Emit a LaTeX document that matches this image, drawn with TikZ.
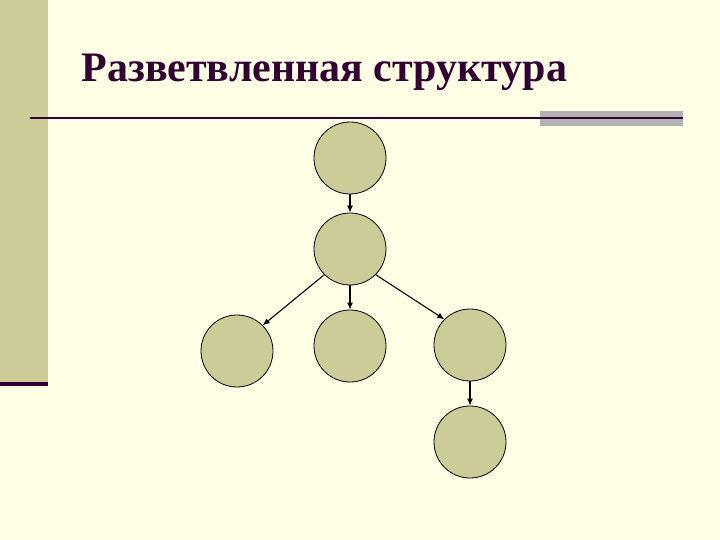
\documentclass[tikz,border=0pt]{standalone}
\usepackage{fontspec}
\setmainfont{Liberation Serif}
\usepackage{tikz}
\usetikzlibrary{arrows.meta}
\definecolor{slidebg}{RGB}{255,255,229}
\definecolor{khaki}{RGB}{204,204,153}
\definecolor{plum}{RGB}{51,0,51}
\definecolor{bargray}{RGB}{178,178,178}

\begin{document}
\begin{tikzpicture}[x=1pt, y=-1pt, line width=1pt,
        every circle node/.append style={draw=black, fill=khaki, line width=0.8pt,
          minimum size=72pt, inner sep=0pt}]
      \tikzstyle{link} = [-{Latex[length=7pt,width=6pt]}, line width=1.1pt]
      \fill[slidebg] (0,0) rectangle (720,540);
      \useasboundingbox (0,0) rectangle (720,540);
      % left band and rule
      \fill[khaki] (0,0) rectangle (48,382);
      \fill[plum] (0,382) rectangle (48,386);
      \fill[bargray] (540,111) rectangle (683,126);
      \draw[plum, line width=2pt] (30,118) -- (683,118);
      \node (title) [anchor=base west, inner sep=0pt, text=plum,
        font=\fontsize{42}{50}\selectfont\bfseries] at (81,82) {Разветвленная структура};
      % tree
      \node (root) [circle] at (350,158) {};
      \node (mid) [circle] at (350,249) {};
      \node (left) [circle] at (237,351) {};
      \node (center) [circle] at (350,346) {};
      \node (right) [circle] at (470,345) {};
      \node (leaf) [circle] at (470,442) {};
      \draw[link] (root) -- (mid);
      \draw[link] (mid.225) -- (left.45);
      \draw[link] (mid) -- (center);
      \draw[link] (mid.-45) -- (right.135);
      \draw[link] (right) -- (leaf);
    \end{tikzpicture}
\end{document}
